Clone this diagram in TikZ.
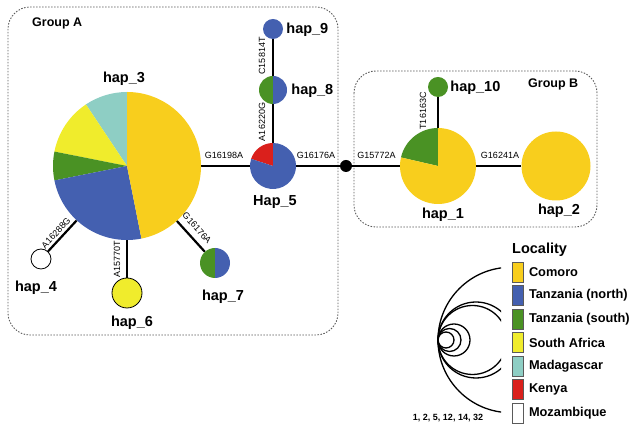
\documentclass[tikz,border=0pt]{standalone}
\usepackage{fontspec}
\setmainfont{Liberation Sans}
\usepackage{xcolor}
\usetikzlibrary{positioning}

\definecolor{comoro}{RGB}{248,206,29}
\definecolor{tznorth}{RGB}{68,96,176}
\definecolor{tzsouth}{RGB}{74,146,36}
\definecolor{safrica}{RGB}{240,236,44}
\definecolor{madag}{RGB}{142,206,196}
\definecolor{kenya}{RGB}{218,32,28}
\definecolor{boxline}{RGB}{90,90,90}

% node, radius, start angle, end angle, colour
\newcommand{\hapslice}[5]{%
  \fill[#5] (#1.center) -- ++(#3:#2) arc[start angle=#3, end angle=#4, radius=#2] -- cycle;}

\begin{document}
\begin{tikzpicture}[
  x=1pt, y=1pt,
  hap/.style={circle, inner sep=0pt, minimum size=#1},
  link/.style={line width=2.2pt},
  group/.style={draw=boxline, line width=0.9pt, dash pattern=on 1.5pt off 1.5pt, rounded corners=22pt},
  grouptext/.style={font=\fontsize{12.5}{14}\selectfont\bfseries, anchor=base west, inner sep=0pt},
  hlabel/.style={font=\fontsize{14.5}{16}\selectfont\bfseries, inner sep=0pt, text height=10pt, text depth=0pt},
  mut/.style={font=\fontsize{9}{10}\selectfont, inner sep=0pt},
  key/.style={draw=boxline, line width=0.6pt, minimum width=11pt, minimum height=20pt, inner sep=0pt},
  keytext/.style={font=\fontsize{12.8}{14}\selectfont\bfseries, inner sep=0pt}
]
  \useasboundingbox (0,0) rectangle (640,435);

  % groups
  \draw[group] (8,428) rectangle (338,100);
  \draw[group] (354,364) rectangle (597,208);
  \node[grouptext] (ga) at (32,408) {Group A};
  \node[grouptext] (gb) at (528,347) {Group B};

  % haplotypes
  \node[hap=148pt] (h3) at (127,269) {};
  \node[hap=46pt] (h5) at (273,269) {};
  \node[hap=28pt] (h8) at (273,345) {};
  \node[hap=20pt, fill=tznorth] (h9) at (273,406) {};
  \node[circle, fill=black, minimum size=12pt, inner sep=0pt] (mv) at (346,269) {};
  \node[hap=76pt] (h1) at (438,269) {};
  \node[hap=69pt, fill=comoro] (h2) at (556,269) {};
  \node[hap=20pt, fill=tzsouth] (h10) at (438,348) {};
  \node[hap=20pt, draw, line width=0.8pt, fill=white] (h4) at (41,176) {};
  \node[hap=30pt, draw, line width=0.8pt, fill=safrica] (h6) at (127,142) {};
  \node[hap=30pt] (h7) at (215,172) {};

  \draw[link] (h3) -- (h5);
  \draw[link] (h5) -- (mv);
  \draw[link] (mv) -- (h1);
  \draw[link] (h1) -- (h2);
  \draw[link] (h5) -- (h8);
  \draw[link] (h8) -- (h9);
  \draw[link] (h1) -- (h10);
  \draw[link] (h3) -- (h4);
  \draw[link] (h3) -- (h6);
  \draw[link] (h3) -- (h7);

  \hapslice{h3}{74}{90}{123.75}{madag}
  \hapslice{h3}{74}{123.75}{168.75}{safrica}
  \hapslice{h3}{74}{168.75}{191.25}{tzsouth}
  \hapslice{h3}{74}{191.25}{281.25}{tznorth}
  \hapslice{h3}{74}{281.25}{450}{comoro}
  \hapslice{h5}{23}{90}{162}{kenya}
  \hapslice{h5}{23}{162}{450}{tznorth}
  \hapslice{h8}{14}{90}{270}{tzsouth}
  \hapslice{h8}{14}{270}{450}{tznorth}
  \hapslice{h1}{38}{90}{167}{tzsouth}
  \hapslice{h1}{38}{167}{450}{comoro}
  \hapslice{h7}{15}{90}{270}{tzsouth}
  \hapslice{h7}{15}{270}{450}{tznorth}

  % mutations
  \node[mut] (m1) at (224,280) {G16198A};
  \node[mut] (m2) at (316,280) {G16176A};
  \node[mut] (m3) at (376.5,280) {G15772A};
  \node[mut] (m4) at (500,280) {G16241A};
  \node[mut, rotate=90] (m5) at (423,324) {T16163C};
  \node[mut, rotate=90] (m6) at (262,379) {C15814T};
  \node[mut, rotate=90] (m7) at (262,313) {A16220G};
  \node[mut, rotate=47.5] (m8) at (56,202) {A16288G};
  \node[mut, rotate=90] (m9) at (117,176) {A15770T};
  \node[mut, rotate=-48] (m10) at (197,207) {G16176A};

  % haplotype names
  \node[hlabel, above=9pt of h3, xshift=-3pt] (l3) {hap\_3};
  \node[hlabel, below=6pt of h5, xshift=2pt] (l5) {Hap\_5};
  \node[hlabel, right=3pt of h9] (l9) {hap\_9};
  \node[hlabel, right=4pt of h8] (l8) {hap\_8};
  \node[hlabel, right=2pt of h10] (l10) {hap\_10};
  \node[hlabel, below=4pt of h1, xshift=5pt] (l1) {hap\_1};
  \node[hlabel, below=4pt of h2, xshift=3pt] (l2) {hap\_2};
  \node[hlabel, below=12pt of h4, xshift=-5pt] (l4) {hap\_4};
  \node[hlabel, below=8pt of h6, xshift=5pt] (l6) {hap\_6};
  \node[hlabel, below=12pt of h7, xshift=8pt] (l7) {hap\_7};

  % legend
  \node[font=\fontsize{14.5}{16}\selectfont\bfseries, anchor=base west, inner sep=0pt] (loc) at (512,181) {Locality};
  \foreach \col/\name [count=\i] in {comoro/Comoro, tznorth/Tanzania (north), tzsouth/Tanzania (south),
      safrica/South Africa, madag/Madagascar, kenya/Kenya, white/Mozambique} {
    \node[key, fill=\col] (k\i) at (518,186.5-23.5*\i) {};
    \node[keytext, right=5pt of k\i] (t\i) {\name};
  }
  \begin{scope}
    \clip (425,5) rectangle (501,180);
    \foreach \r in {8,11.5,16,34.5,38,72.7}
      \draw[line width=1.3pt] (438+\r,95) circle[radius=\r];
  \end{scope}
  \node[font=\fontsize{9}{10}\selectfont\bfseries, inner sep=0pt] (sz) at (448,17) {1, 2, 5, 12, 14, 32};
\end{tikzpicture}
\end{document}
